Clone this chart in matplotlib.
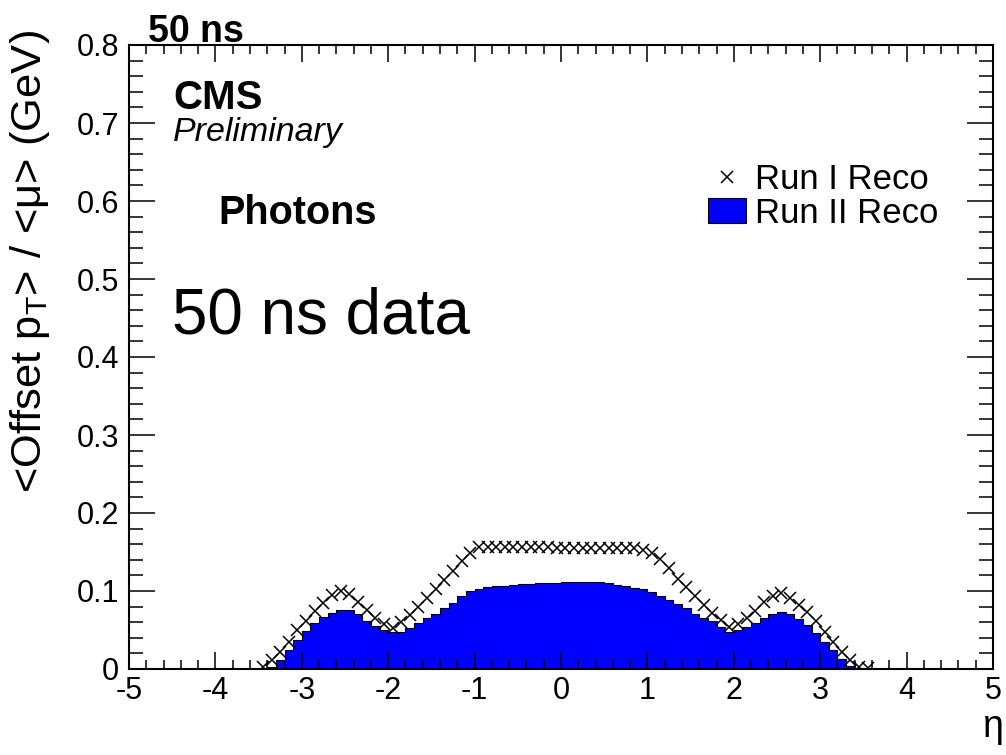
import numpy as np
import matplotlib
matplotlib.use("Agg")
import matplotlib.pyplot as plt
from matplotlib.lines import Line2D
from matplotlib.patches import Patch

plt.rcParams['font.family'] = ['Liberation Sans', 'DejaVu Sans']
plt.rcParams['mathtext.fontset'] = 'custom'
plt.rcParams['mathtext.rm'] = 'Liberation Sans'
plt.rcParams['axes.unicode_minus'] = False

# eta binning (0.1 wide bins from -3.5 to 3.6)
eta_edges = np.linspace(-3.5, 3.6, 72)
eta_centers = 0.5 * (eta_edges[:-1] + eta_edges[1:])

# Run II Reco (filled histogram), offset pT / <mu> in GeV
run2_reco = [
    0.000, 0.002, 0.012, 0.024, 0.037, 0.049, 0.059, 0.067, 0.072, 0.076,
    0.076, 0.070, 0.062, 0.055, 0.050, 0.047, 0.048, 0.052, 0.059, 0.065,
    0.071, 0.078, 0.084, 0.093, 0.100, 0.103, 0.105, 0.106, 0.107, 0.108,
    0.109, 0.109, 0.110, 0.110, 0.110, 0.111, 0.111, 0.111, 0.111, 0.111,
    0.110, 0.108, 0.106, 0.104, 0.102, 0.099, 0.094, 0.088, 0.083, 0.078,
    0.071, 0.066, 0.061, 0.054, 0.048, 0.050, 0.054, 0.059, 0.065, 0.071,
    0.073, 0.070, 0.064, 0.056, 0.046, 0.035, 0.024, 0.013, 0.004, 0.001,
    0.000,
]

# Run I Reco (markers at bin centres)
run1_reco = [
    0.002, 0.011, 0.022, 0.035, 0.050, 0.061, 0.074, 0.084, 0.095, 0.100,
    0.096, 0.086, 0.076, 0.066, 0.058, 0.053, 0.060, 0.069, 0.079, 0.091,
    0.103, 0.114, 0.126, 0.138, 0.149, 0.156, 0.157, 0.157, 0.157, 0.157,
    0.157, 0.156, 0.156, 0.156, 0.155, 0.155, 0.155, 0.155, 0.155, 0.155,
    0.155, 0.155, 0.155, 0.155, 0.153, 0.149, 0.141, 0.129, 0.116, 0.105,
    0.093, 0.082, 0.072, 0.063, 0.054, 0.058, 0.066, 0.075, 0.086, 0.094,
    0.097, 0.091, 0.082, 0.073, 0.061, 0.048, 0.035, 0.022, 0.011, 0.003,
    0.001,
]

x_ticks = [-5, -4, -3, -2, -1, 0, 1, 2, 3, 4, 5]
x_tick_labels = ["-5", "-4", "-3", "-2", "-1", "0", "1", "2", "3", "4", "5"]
y_ticks = [0, 0.1, 0.2, 0.3, 0.4, 0.5, 0.6, 0.7, 0.8]
y_tick_labels = ["0", "0.1", "0.2", "0.3", "0.4", "0.5", "0.6", "0.7", "0.8"]

W, H = 1006, 755
fig = plt.figure(figsize=(W / 100, H / 100), dpi=100)
ax = fig.add_axes([129 / W, 1 - 669 / H, (993 - 129) / W, (669 - 45) / H])

ax.stairs(run2_reco, eta_edges, fill=True, facecolor="#0000ff", edgecolor="none")
ax.stairs(run2_reco, eta_edges, color="black", linewidth=0.8)
ax.plot(eta_centers, run1_reco, "x", color="black", markersize=8, markeredgewidth=1.1)

ax.set_xlim(-5, 5)
ax.set_ylim(0, 0.8)
ax.set_xticks(x_ticks)
ax.set_xticklabels(x_tick_labels)
ax.set_yticks(y_ticks)
ax.set_yticklabels(y_tick_labels)
ax.set_xticks(np.arange(-5, 5.01, 0.2), minor=True)
ax.set_yticks(np.arange(0, 0.801, 0.02), minor=True)

ax.tick_params(which="both", direction="in", top=True, right=True, width=1.1)
ax.tick_params(axis="x", which="major", length=12.5, labelsize=22, pad=5)
ax.tick_params(axis="x", which="minor", length=6.5)
ax.tick_params(axis="y", which="major", length=18.5, labelsize=22, pad=7)
ax.tick_params(axis="y", which="minor", length=10)
for s in ax.spines.values():
    s.set_linewidth(1.5)

# axis titles
fig.text(30 / W, 1 - 30 / H, r"<Offset $\mathregular{p_{T}}$> / <μ> (GeV)",
         rotation=90, ha="center", va="top", fontsize=31.3)
fig.text(1003 / W, 1 - 737 / H, "η", ha="right", va="baseline", fontsize=27)

# labels
fig.text(148 / W, 1 - 42 / H, "50 ns", fontsize=27, fontweight="bold", va="baseline")
fig.text(173 / W, 1 - 109 / H, "CMS", fontsize=29, fontweight="bold", va="baseline")
fig.text(173 / W, 1 - 141 / H, "Preliminary", fontsize=24.5, fontstyle="italic", va="baseline")
fig.text(218 / W, 1 - 224 / H, "Photons", fontsize=28.5, fontweight="bold", va="baseline")
fig.text(172 / W, 1 - 334 / H, "50 ns data", fontsize=46, va="baseline")

handles = [
    Line2D([], [], linestyle="none", marker="x", color="black", markersize=8, markeredgewidth=1.1),
    Patch(facecolor="#0000ff", edgecolor="black", linewidth=0.8),
]
ax.legend(handles, ["Run I Reco", "Run II Reco"], loc="upper left",
          bbox_to_anchor=(708 / W, 1 - 163 / H), bbox_transform=fig.transFigure,
          frameon=False, fontsize=25, borderpad=0, borderaxespad=0,
          handlelength=1.1, handleheight=0.72, handletextpad=0.25, labelspacing=0.02)

fig.savefig("out.png", dpi=100)
